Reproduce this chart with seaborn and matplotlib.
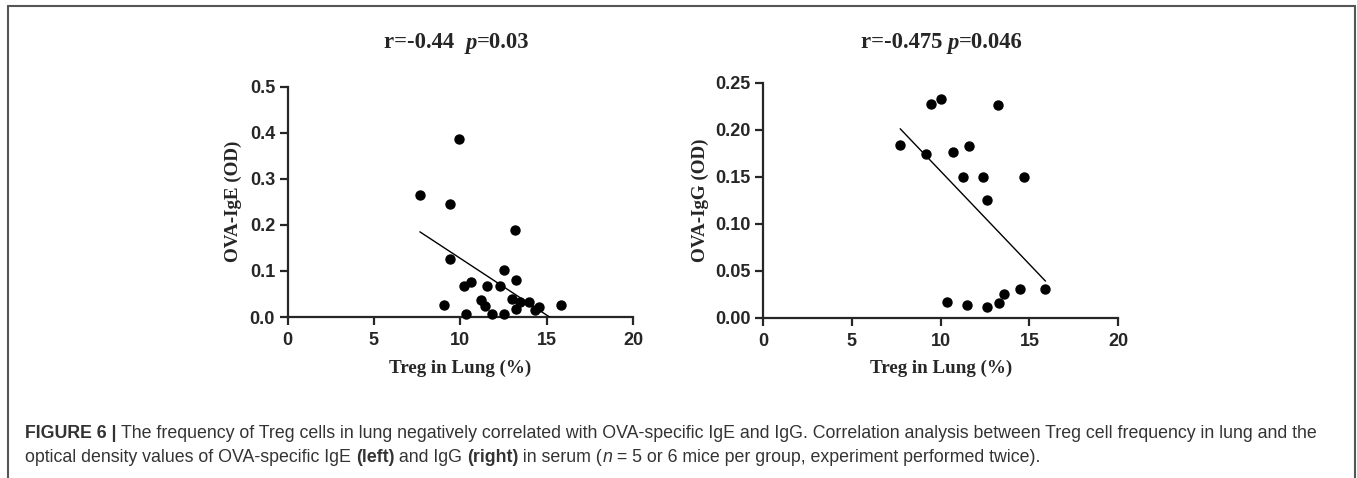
import numpy as np
import pandas as pd
import matplotlib
matplotlib.use("Agg")
import matplotlib.pyplot as plt
from matplotlib.ticker import FormatStrFormatter
from matplotlib.lines import Line2D
import seaborn as sns

# Treg frequency in lung vs OVA-specific IgE (left panel)
ige_treg = [7.66, 9.94, 9.39, 9.39, 13.14, 12.51, 13.20, 10.23, 10.63, 11.55,
            12.32, 9.08, 10.31, 11.17, 11.42, 11.86, 12.51, 12.97, 13.22, 13.47,
            13.97, 14.33, 14.56, 15.85]
ige_od = [0.264, 0.386, 0.246, 0.125, 0.188, 0.102, 0.080, 0.067, 0.075, 0.068,
          0.067, 0.025, 0.006, 0.037, 0.023, 0.006, 0.006, 0.040, 0.017, 0.032,
          0.032, 0.015, 0.021, 0.025]

# Treg frequency in lung vs OVA-specific IgG (right panel)
igg_treg = [7.72, 9.15, 9.46, 10.03, 13.22, 10.69, 11.62, 11.25, 12.41, 14.67,
            12.58, 10.38, 11.51, 12.60, 13.31, 13.56, 14.46, 15.90]
igg_od = [0.184, 0.174, 0.227, 0.232, 0.226, 0.176, 0.183, 0.150, 0.150, 0.150,
          0.125, 0.0165, 0.0137, 0.011, 0.0154, 0.0256, 0.030, 0.030]

titles = [[("r=-0.44  ", "normal"), ("p", "italic"), ("=0.03", "normal")],
          [("r=-0.475 ", "normal"), ("p", "italic"), ("=0.046", "normal")]]
ylabels = ["OVA-IgE (OD)", "OVA-IgG (OD)"]
xlabel = "Treg in Lung (%)"
yticks = [[0, 0.1, 0.2, 0.3, 0.4, 0.5], [0, 0.05, 0.10, 0.15, 0.20, 0.25]]
ylims = [(0, 0.5), (0, 0.25)]
yfmt = ["%.1f", "%.2f"]

sns.set_style("ticks")
plt.rcParams["font.family"] = ["Liberation Sans", "DejaVu Sans"]

W, H = 1357, 478
fig = plt.figure(figsize=(W / 100, H / 100), dpi=100)

axes = [fig.add_axes([0.2119, 0.3368, 0.2546, 0.4822]),
        fig.add_axes([0.5623, 0.3354, 0.2618, 0.4920])]

panels = [pd.DataFrame({"treg": ige_treg, "od": ige_od}),
          pd.DataFrame({"treg": igg_treg, "od": igg_od})]

serif = ["Liberation Serif", "DejaVu Serif"]
# label positions in axes coords (ylabel x, xlabel y)
ylab_x = [-0.158, -0.177]
xlab_y = [-0.221, -0.214]

for i, (ax, df) in enumerate(zip(axes, panels)):
    sns.regplot(data=df, x="treg", y="od", ax=ax, ci=None, color="black",
                scatter_kws={"s": 42, "alpha": 1, "clip_on": False, "zorder": 4},
                line_kws={"lw": 1.0, "zorder": 3})
    ax.set_xlim(0, 20)
    ax.set_ylim(*ylims[i])
    ax.set_xticks([0, 5, 10, 15, 20])
    ax.set_yticks(yticks[i])
    ax.yaxis.set_major_formatter(FormatStrFormatter(yfmt[i]))
    sns.despine(ax=ax)
    for sp in ["left", "bottom"]:
        ax.spines[sp].set_linewidth(1.6)
    ax.tick_params(width=1.6, length=6, labelsize=13, pad=3)
    ax.tick_params(axis="x", pad=5)
    for lab in ax.get_xticklabels() + ax.get_yticklabels():
        lab.set_fontweight("bold")
    ax.set_xlabel(xlabel, family=serif, fontweight="bold", fontsize=13.7, va="center")
    ax.set_ylabel(ylabels[i], family=serif, fontweight="bold", fontsize=13.7, va="center")
    ax.xaxis.set_label_coords(0.5, xlab_y[i])
    ax.yaxis.set_label_coords(ylab_x[i], 0.5)

renderer = fig.canvas.get_renderer()


def draw_runs(x_px, y_frac, runs, center=False, **common):
    # place text pieces one after another, in pixel units along x
    items = []
    for s, props in runs:
        t = fig.text(0, y_frac, s, va="center", **common, **props)
        items.append(t)
    widths = [t.get_window_extent(renderer).width for t in items]
    start = x_px - sum(widths) / 2 if center else x_px
    for t, w in zip(items, widths):
        t.set_x(start / W)
        start += w


# panel titles
title_x = [457, 942]
for i, runs in enumerate(titles):
    draw_runs(title_x[i], 1 - 43 / H,
              [(s, {"style": st}) for s, st in runs],
              center=True, family=serif, fontweight="bold", fontsize=16.3)

# caption
cap_color = "#333333"
line1 = [("FIGURE 6 | ", {"fontweight": "bold"}),
         ("The frequency of Treg cells in lung negatively correlated with OVA-specific IgE and IgG. "
          "Correlation analysis between Treg cell frequency in lung and the", {})]
line2 = [("optical density values of OVA-specific IgE ", {}),
         ("(left)", {"fontweight": "bold"}),
         (" and IgG ", {}),
         ("(right)", {"fontweight": "bold"}),
         (" in serum (", {}),
         ("n", {"style": "italic"}),
         (" = 5 or 6 mice per group, experiment performed twice).", {})]
draw_runs(25, 1 - 434 / H, line1, fontsize=12.8, color=cap_color)
draw_runs(25, 1 - 458 / H, line2, fontsize=12.8, color=cap_color)

# frame around the figure panel
frame_kw = dict(color="#555555", lw=1.5, transform=fig.transFigure)
fig.add_artist(Line2D([7.5 / W, 7.5 / W], [0, 1 - 6 / H], **frame_kw))
fig.add_artist(Line2D([7.5 / W, 1354.5 / W], [1 - 6 / H, 1 - 6 / H], **frame_kw))
fig.add_artist(Line2D([1354.5 / W, 1354.5 / W], [0, 1 - 6 / H], **frame_kw))

fig.savefig("out.png", dpi=100)
